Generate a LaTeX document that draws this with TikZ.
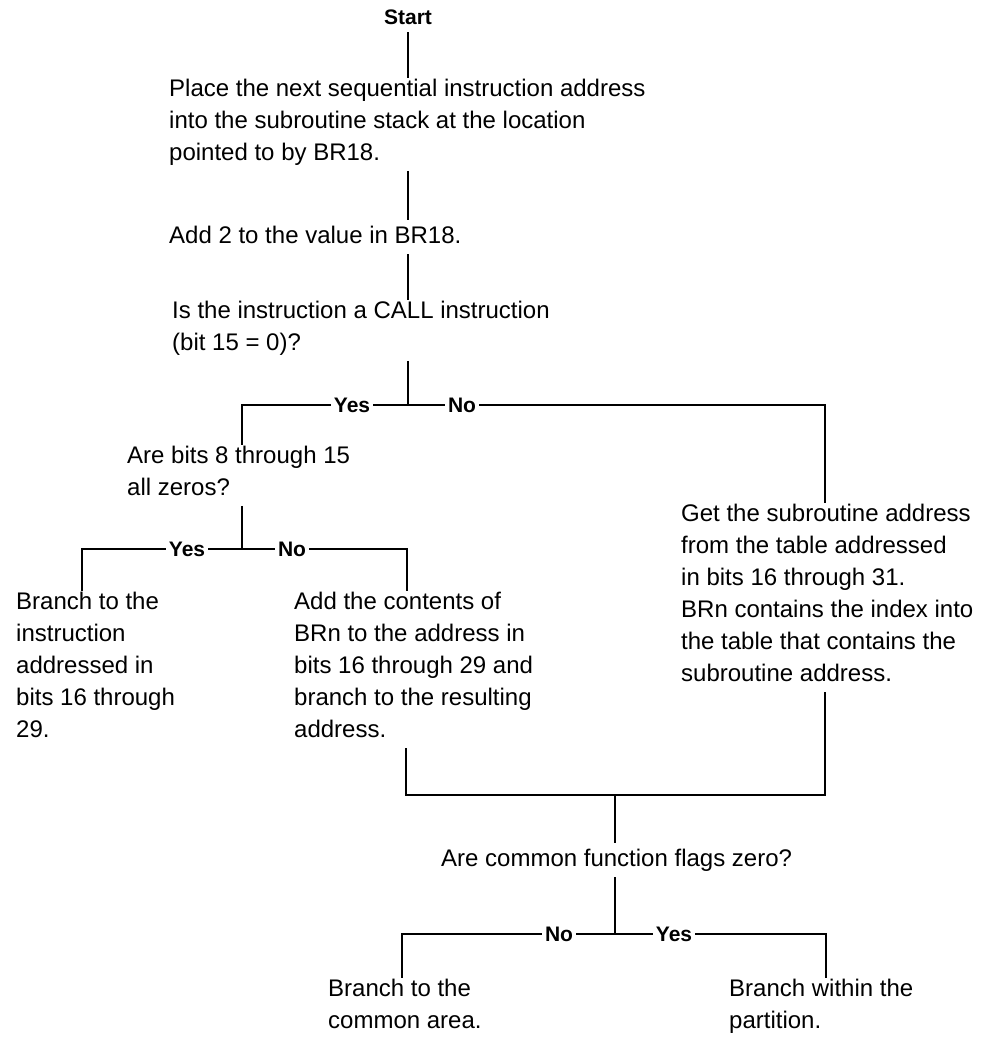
\documentclass[tikz,border=0pt]{standalone}
\usepackage{fontspec}
\setmainfont{Liberation Sans}

\begin{document}
\begin{tikzpicture}[
  x=1pt, y=-1pt,
  line width=2.4pt,
  txt/.style={anchor=north west, yshift=22.4pt, align=left, inner sep=0pt,
    font=\fontsize{24}{32}\selectfont,
    execute at begin node=\strut, execute at end node=\strut},
  hd/.style={anchor=base, inner sep=0pt, font=\fontsize{21}{24}\selectfont\bfseries,
    execute at end node=\strut},
  lbl/.style={inner sep=2pt, font=\fontsize{21}{24}\selectfont\bfseries}
]
  \useasboundingbox (0,0) rectangle (988,1039);

  \node[hd] (start) at (408,24) {Start};
  \node[txt] (place) at (168,100) {Place the next sequential instruction address\\into the subroutine stack at the location\\pointed to by BR18.};
  \node[txt] (addtwo) at (168,242) {Add 2 to the value in BR18.};
  \node[txt] (call) at (171,322) {Is the instruction a CALL instruction\\(bit 15 = 0)?};
  \node[txt] (zeros) at (126,467) {Are bits 8 through 15\\all zeros?};
  \node[txt] (target) at (15,613) {Branch to the\\instruction\\addressed in\\bits 16 through\\29.};
  \node[txt] (addbrn) at (293,613) {Add the contents of\\BRn to the address in\\bits 16 through 29 and\\branch to the resulting\\address.};
  \node[txt] (table) at (680,525) {Get the subroutine address\\from the table addressed\\in bits 16 through 31.\\BRn contains the index into\\the table that contains the\\subroutine address.};
  \node[txt] (flags) at (440,865) {Are common function flags zero?};
  \node[txt] (common) at (327,1000) {Branch to the\\common area.};
  \node[txt] (within) at (728,1000) {Branch within the\\partition.};

  \node[lbl] (yes1) at (352,405) {Yes};
  \node[lbl] (no1) at (462,405) {No};
  \node[lbl] (yes2) at (187,549) {Yes};
  \node[lbl] (no2) at (292,549) {No};
  \node[lbl] (no3) at (559,934) {No};
  \node[lbl] (yes3) at (674,934) {Yes};

  \coordinate (j1) at (408,405);
  \coordinate (c1) at (242,405);
  \coordinate (c2) at (825,405);
  \coordinate (j2) at (242,549);
  \coordinate (c3) at (82,549);
  \coordinate (c4) at (407,549);
  \coordinate (m1) at (406,795);
  \coordinate (m2) at (825,795);
  \coordinate (j3) at (615,795);
  \coordinate (j4) at (615,934);
  \coordinate (c5) at (402,934);
  \coordinate (c6) at (826,934);

  \draw (start.south) -- (start.south |- place.north);
  \draw (place.south -| start) -- (addtwo.north -| start);
  \draw (addtwo.south -| start) -- (call.north -| start);
  \draw (call.south -| j1) -- (j1);
  \draw (yes1.east) -- (no1.west);
  \draw (yes1.west) -- (c1) -- (c1 |- zeros.north);
  \draw (no1.east) -- (c2) -- (c2 |- table.north);
  \draw (zeros.south -| j2) -- (j2);
  \draw (yes2.east) -- (no2.west);
  \draw (yes2.west) -- (c3) -- (c3 |- target.north);
  \draw (no2.east) -- (c4) -- (c4 |- addbrn.north);
  \draw (addbrn.south -| m1) -- (m1) -- (m2) -- (table.south -| m2);
  \draw (j3) -- (j3 |- flags.north);
  \draw (flags.south -| j4) -- (j4);
  \draw (no3.east) -- (yes3.west);
  \draw (no3.west) -- (c5) -- (c5 |- common.north);
  \draw (yes3.east) -- (c6) -- (c6 |- within.north);
\end{tikzpicture}
\end{document}
